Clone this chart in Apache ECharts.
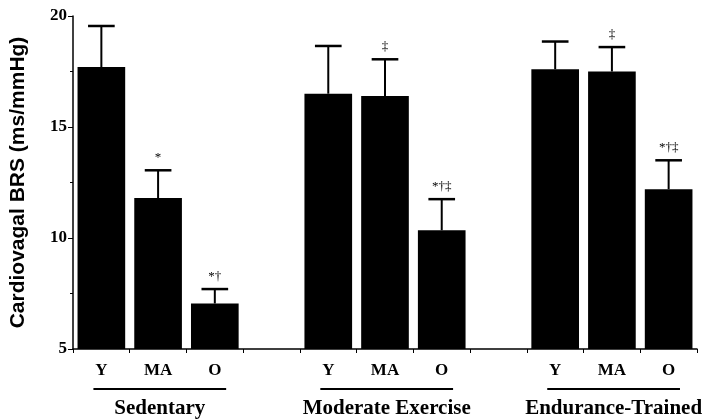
<!DOCTYPE html>
<html>
<head>
<meta charset="utf-8">
<script src="https://cdn.jsdelivr.net/npm/echarts@6/dist/echarts.min.js"></script>
<style>html,body{margin:0;padding:0;background:#fff}#c{width:710px;height:419px}</style>
</head>
<body>
<div id="c"></div>
<script>
// ---- data ----
var categories = ['Y', 'MA', 'O', '', 'Y', 'MA', 'O', '', 'Y', 'MA', 'O'];
var groupNames = ['Sedentary', 'Moderate Exercise', 'Endurance-Trained'];
var groupSpans = [[0, 2], [4, 6], [8, 10]];
var means = [17.7, 11.8, 7.05, null, 16.5, 16.4, 10.35, null, 17.6, 17.5, 12.2];
var upperErr = [19.55, 13.05, 7.7, null, 18.65, 18.05, 11.75, null, 18.85, 18.6, 13.5];
var annotations = ['', '*', '*\u2020', '', '', '\u2021', '*\u2020\u2021', '', '', '\u2021', '*\u2020\u2021'];
var yTicks = { min: 5, max: 20, interval: 5 };

var serif = '"Liberation Serif", "Times New Roman", serif';
var sans = '"Liberation Sans", Arial, sans-serif';

var errData = [];
for (var i = 0; i < means.length; i++) {
  if (means[i] != null) errData.push([i, means[i], upperErr[i]]);
}

var chart = echarts.init(document.getElementById('c'), null, { renderer: 'canvas' });
chart.setOption({
  animation: false,
  backgroundColor: '#fff',
  grid: { left: 68, right: 13, top: 16, bottom: 70, containLabel: false },
  xAxis: {
    type: 'category',
    data: categories,
    boundaryGap: true,
    axisLine: { show: true, lineStyle: { color: '#000', width: 1.5 } },
    axisTick: { show: true, length: 4, interval: 0, lineStyle: { color: '#000', width: 1 } },
    axisLabel: { interval: 0, color: '#000', fontFamily: serif, fontWeight: 'bold', fontSize: 17, margin: 13 },
    splitLine: { show: false }
  },
  yAxis: {
    type: 'value',
    min: yTicks.min, max: yTicks.max, interval: yTicks.interval,
    name: 'Cardiovagal BRS (ms/mmHg)',
    nameLocation: 'middle',
    nameRotate: 90,
    nameGap: 44,
    nameTextStyle: { color: '#000', fontFamily: sans, fontWeight: 'bold', fontSize: 21 },
    axisLine: { show: true, lineStyle: { color: '#000', width: 1.5 } },
    axisTick: { show: true, length: 5, lineStyle: { color: '#000', width: 1 } },
    minorTick: { show: true, splitNumber: 2, length: 3, lineStyle: { color: '#000', width: 1 } },
    axisLabel: { color: '#000', fontFamily: serif, fontWeight: 'bold', fontSize: 17, margin: 6, padding: [6, 0, 0, 0] },
    splitLine: { show: false }
  },
  series: [
    {
      type: 'bar',
      data: means,
      barWidth: '84%',
      itemStyle: { color: '#000' },
      z: 3
    },
    {
      type: 'custom',
      data: errData,
      clip: false,
      z: 2,
      renderItem: function (params, api) {
        var idx = api.value(0);
        var base = api.coord([idx, api.value(1)]);
        var top = api.coord([idx, api.value(2)]);
        var bw = api.size([1, 0])[0];
        var half = bw * 0.235;
        var note = annotations[idx];
        var children = [
          { type: 'line', shape: { x1: top[0], y1: base[1], x2: top[0], y2: top[1] }, style: { stroke: '#000', lineWidth: 2 } },
          { type: 'line', shape: { x1: top[0] - half, y1: top[1], x2: top[0] + half, y2: top[1] }, style: { stroke: '#000', lineWidth: 2.5 } }
        ];
        if (note) {
          children.push({
            type: 'text', z2: 5,
            style: { text: note, x: top[0], y: top[1] - 6, align: 'center', verticalAlign: 'bottom',
              fill: '#000', font: '13px ' + serif }
          });
        }
        return { type: 'group', children: children };
      }
    },
    {
      type: 'custom',
      data: groupSpans,
      clip: false,
      z: 2,
      silent: true,
      renderItem: function (params, api) {
        var a = api.coord([api.value(0), yTicks.min]);
        var b = api.coord([api.value(1), yTicks.min]);
        var bw = api.size([1, 0])[0];
        var x1 = a[0] - bw * 0.14, x2 = b[0] + bw * 0.2;
        return {
          type: 'group',
          children: [
            { type: 'line', shape: { x1: x1, y1: a[1] + 40, x2: x2, y2: a[1] + 40 }, style: { stroke: '#000', lineWidth: 2 } },
            { type: 'text', style: { text: groupNames[params.dataIndex], x: (x1 + x2) / 2, y: a[1] + 60,
              align: 'center', verticalAlign: 'middle', fill: '#000', font: 'bold 21px ' + serif } }
          ]
        };
      }
    }
  ]
});
</script>
</body>
</html>
